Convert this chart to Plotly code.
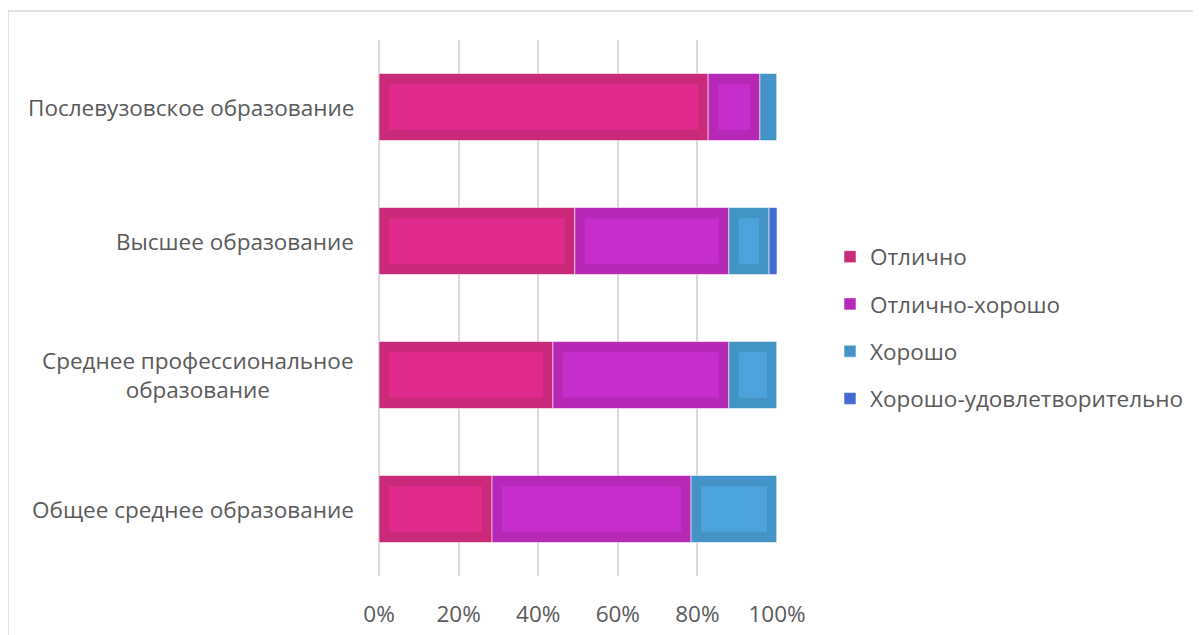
import plotly.graph_objects as go

categories = ["Послевузовское образование", "Высшее образование",
              "Среднее профессиональное<br>образование", "Общее среднее образование"]
series_names = ["Отлично", "Отлично-хорошо", "Хорошо", "Хорошо-удовлетворительно"]
otlichno = [82.7, 49.2, 43.7, 28.4]
otlichno_horosho = [13.0, 38.7, 44.2, 50.0]
horosho = [4.3, 10.1, 12.1, 21.6]
horosho_udovl = [0.0, 2.0, 0.0, 0.0]
x_ticks = [0, 20, 40, 60, 80, 100]
x_tick_labels = ["0%", "20%", "40%", "60%", "80%", "100%"]

outer_colors = ["#CB2A7B", "#B529B6", "#4393C6", "#426AD2"]
inner_colors = ["#E02B8C", "#C62FCB", "#4DA3DB", "#4D7AE0"]

INSET = 2.5  # percent units (~10 px)
FONT = "Open Sans"
FS = 22.5
TXT = "#595959"
OFF = 8  # page body margin

fig = go.Figure()
series = [otlichno, otlichno_horosho, horosho, horosho_udovl]
starts = [0.0] * len(categories)
for i, vals in enumerate(series):
    fig.add_trace(go.Bar(
        y=categories, x=vals, base=starts, orientation="h", name=series_names[i],
        width=0.5, marker=dict(color=outer_colors[i], line=dict(color="rgba(255,255,255,0.55)", width=1)),
        legendgroup=series_names[i], showlegend=True, hoverinfo="skip"))
    inner_x = [max(v - 2 * INSET, 0) for v in vals]
    inner_base = [s + INSET for s in starts]
    fig.add_trace(go.Bar(
        y=categories, x=inner_x, base=inner_base, orientation="h", name=series_names[i],
        width=0.34, marker=dict(color=inner_colors[i], line=dict(width=0)),
        legendgroup=series_names[i], showlegend=False, hoverinfo="skip"))
    starts = [s + v for s, v in zip(starts, vals)]

for c in categories:
    fig.add_annotation(x=0, xref="paper", y=c, yref="y", text=c, showarrow=False,
                       xanchor="right", xshift=-23, align="center",
                       font=dict(family=FONT, size=FS, color=TXT))

L, T, W, H = 379 - OFF, 40 - OFF, 398, 536
fig.add_shape(type="rect", xref="paper", yref="paper",
              x0=(8 - OFF - L) / W, x1=(1215 - L) / W,
              y0=(T + H - 650) / H, y1=(T + H - (11 - OFF)) / H,
              line=dict(color="#D9D9D9", width=1.5), fillcolor="rgba(0,0,0,0)", layer="below")

fig.update_layout(
    width=1201, height=635, barmode="overlay",
    margin=dict(l=L, r=1201 - L - W, t=T, b=635 - T - H, autoexpand=False),
    paper_bgcolor="white", plot_bgcolor="white",
    font=dict(family=FONT, size=FS, color=TXT),
    xaxis=dict(range=[0, 100], tickvals=x_ticks, ticktext=x_tick_labels, showgrid=True,
               gridcolor="#D9D9D9", gridwidth=1.5, zeroline=True, zerolinecolor="#D9D9D9",
               zerolinewidth=1.5, showline=False, ticks="", ticklabelstandoff=22,
               tickfont=dict(family=FONT, size=FS, color=TXT), fixedrange=True),
    yaxis=dict(categoryorder="array", categoryarray=categories, autorange="reversed",
               showticklabels=False, showgrid=False, zeroline=False, showline=False,
               range=[3.5, -0.5]),
    legend=dict(x=(830 - OFF - L) / W, xanchor="left", y=(T + H - (327.5 - OFF)) / H, yanchor="middle",
                traceorder="grouped", tracegroupgap=15, font=dict(family=FONT, size=FS, color=TXT),
                bgcolor="rgba(0,0,0,0)"),
    showlegend=True,
)

fig.write_html("out.html")
